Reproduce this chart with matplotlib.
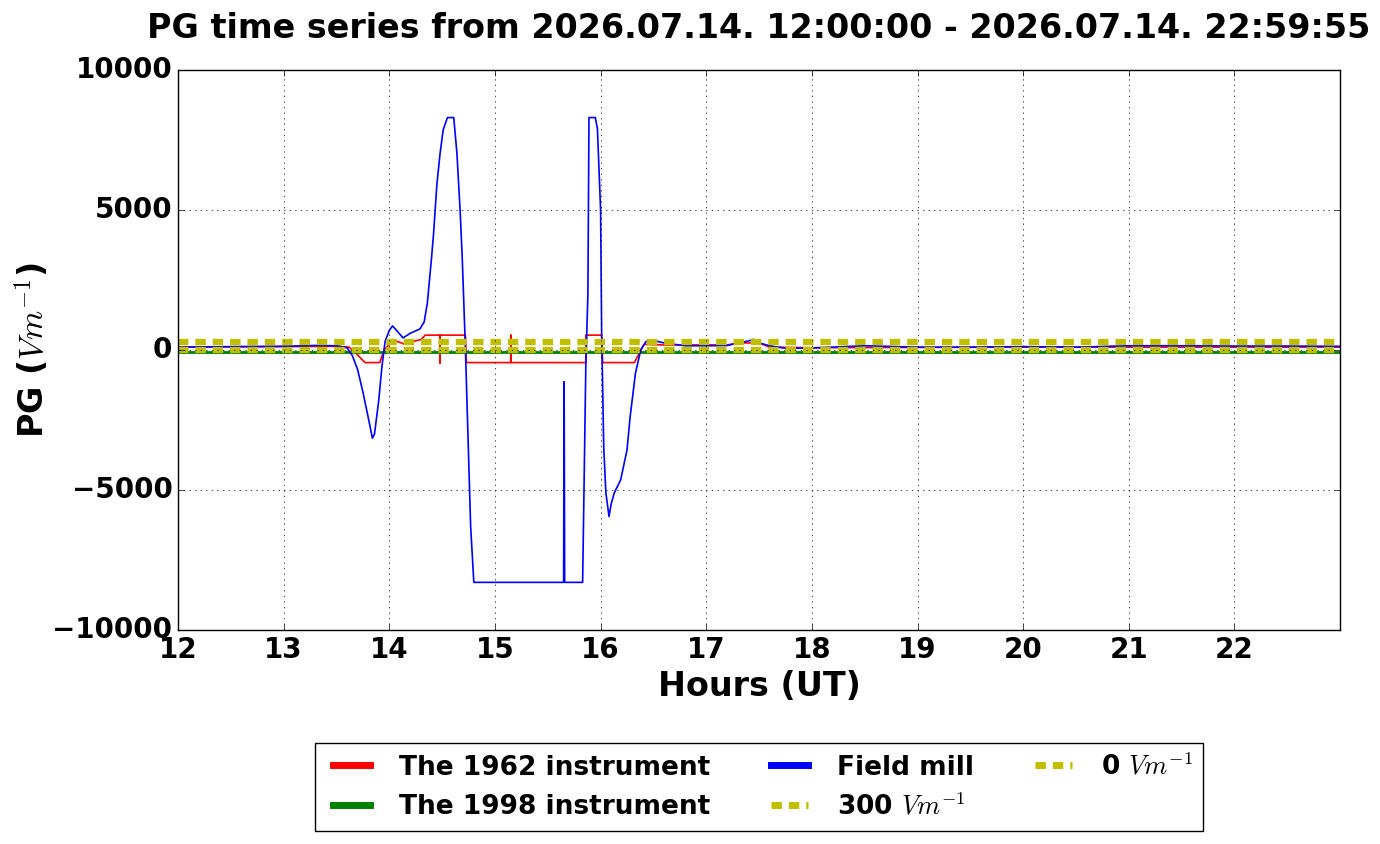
import matplotlib
matplotlib.use('Agg')
import matplotlib.pyplot as plt

plt.style.use('classic')
plt.rcParams['font.family'] = ['DejaVu Sans']
plt.rcParams['font.weight'] = 'bold'
plt.rcParams['mathtext.fontset'] = 'cm'

# field mill (hours UT, V/m)
mill_t = [12.0, 12.5, 13.0, 13.3, 13.5, 13.6, 13.65, 13.7, 13.75, 13.8, 13.84, 13.86,
          13.9, 13.93, 13.96, 14.0, 14.03, 14.08, 14.13, 14.2, 14.29, 14.33, 14.36,
          14.4, 14.42, 14.45, 14.48, 14.51, 14.55, 14.61, 14.64, 14.67, 14.69, 14.72,
          14.77, 14.80, 15.65, 15.655, 15.66, 15.83, 15.86, 15.88, 15.89, 15.95,
          15.97, 16.0, 16.01, 16.03, 16.05, 16.08, 16.1, 16.13, 16.19, 16.25, 16.28,
          16.33, 16.38, 16.43, 16.5, 16.6, 16.8, 17.0, 17.2, 17.3, 17.4, 17.45, 17.5,
          17.6, 17.75, 18.0, 18.5, 19.0, 19.5, 20.0, 20.5, 21.0, 21.5, 22.0, 22.5, 22.999]
mill_v = [100, 120, 130, 160, 150, 80, -200, -700, -1500, -2400, -3150, -3000,
          -1800, -600, 300, 700, 860, 650, 430, 600, 750, 1000, 1670,
          3300, 4200, 5900, 7000, 7860, 8300, 8300, 7030, 5000, 3330, 100,
          -6300, -8300, -8300, -1130, -8300, -8300, -600, 2000, 8300, 8300,
          7900, 5000, 600, -3500, -5100, -5950, -5500, -5100, -4640, -3570, -2380,
          -830, 0, 300, 340, 250, 150, 150, 160, 250, 320, 380, 250,
          150, 60, 70, 150, 100, 100, 120, 100, 150, 150, 140, 140, 130]

# 1962 instrument
i62_t = [12.0, 13.0, 13.5, 13.62, 13.68, 13.77, 13.91, 13.95, 14.04, 14.15, 14.25,
         14.3, 14.34, 14.48, 14.48, 14.48, 14.72, 14.73, 15.15, 15.15, 15.15, 15.86,
         15.86, 16.01, 16.02, 16.32, 16.41, 16.6, 17.2, 17.3, 17.5, 17.6, 18.0,
         20.0, 22.999]
i62_v = [100, 120, 130, 100, -100, -450, -450, 0, 350, 200, 330,
         370, 530, 530, -470, 530, 530, -450, -450, 530, -450, -450,
         530, 530, -450, -450, 200, 180, 180, 250, 250, 100, 80,
         100, 100]

# 1998 instrument
i98_t = [12.0, 22.999]
i98_v = [-60, -60]

ref_levels = [300, 0]
title = 'PG time series from 2026.07.14. 12:00:00 - 2026.07.14. 22:59:55'

fig = plt.figure(figsize=(13.8, 8.44), dpi=100, facecolor='w')
ax = fig.add_axes([0.129, 0.2536, 0.842, 0.6635])

l62, = ax.plot(i62_t, i62_v, color='r', lw=1.2, label='The 1962 instrument')
l98, = ax.plot(i98_t, i98_v, color='g', lw=2, label='The 1998 instrument')
lmill, = ax.plot(mill_t, mill_v, color='b', lw=1.2, label='Field mill')
l300, = ax.plot([12.0, 22.999], [ref_levels[0]] * 2, color='y', lw=4.5,
                dashes=(7.5, 5), label='300 $Vm^{-1}$')
l0, = ax.plot([12.0, 22.999], [ref_levels[1]] * 2, color='y', lw=4.5,
              dashes=(7.5, 5), label='0 $Vm^{-1}$')

ax.set_xlim(12, 22.999)
ax.set_ylim(-10000, 10000)
ax.set_xticks(range(12, 23))
ax.set_yticks([-10000, -5000, 0, 5000, 10000])
ax.tick_params(labelsize=20)
for t in ax.get_xticklabels() + ax.get_yticklabels():
    t.set_fontweight('bold')
ax.grid(True)

ax.set_title(title, fontsize=24, fontweight='bold', y=1.045)
ax.set_xlabel('Hours (UT)', fontsize=24, fontweight='bold')
ax.set_ylabel('PG ($Vm^{-1}$)', fontsize=24, fontweight='bold', labelpad=1)

leg = ax.legend(handles=[l62, l98, lmill, l300, l0], loc='upper center',
                bbox_to_anchor=(0.5, -0.179), ncol=3,
                prop={'weight': 'bold', 'size': 19})
for ln in leg.get_lines():
    ln.set_linewidth(5)

fig.savefig('out.png', dpi=100, facecolor='w')
